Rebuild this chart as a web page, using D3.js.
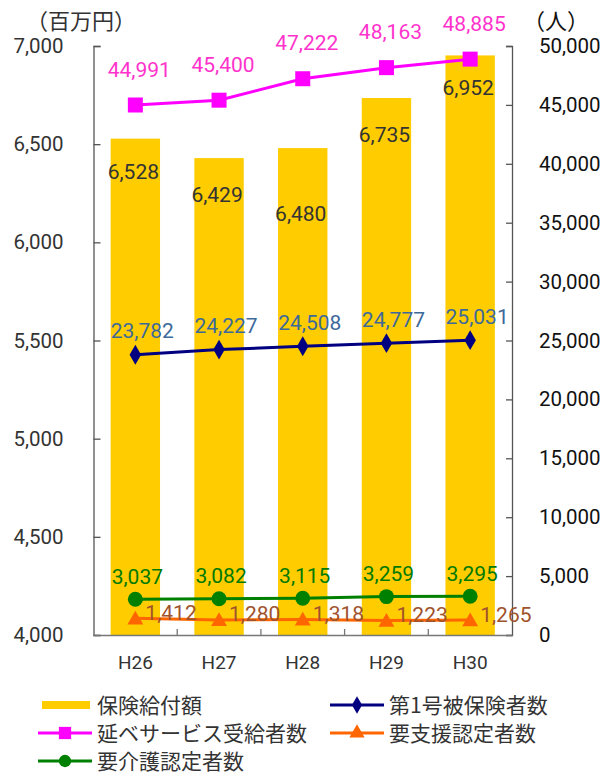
<!DOCTYPE html>
<html>
<head>
<meta charset="utf-8">
<script src="https://cdn.jsdelivr.net/npm/d3@7"></script>
<style>
  html, body { margin: 0; padding: 0; background: #fff; }
  svg { display: block; }
</style>
</head>
<body>
<svg id="chart" width="607" height="774"></svg>
<script>
// Fiscal years
const years = ["H26", "H27", "H28", "H29", "H30"];

// 保険給付額 (百万円) – bars on the left axis
const benefits = [6528, 6429, 6480, 6735, 6952];

// Counts of people (人) – lines on the right axis
const serviceUsers = [44991, 45400, 47222, 48163, 48885];   // 延ベサービス受給者数
const insured1 = [23782, 24227, 24508, 24777, 25031];       // 第1号被保険者数
const careLevel = [3037, 3082, 3115, 3259, 3295];           // 要介護認定者数
const supportLevel = [1412, 1280, 1318, 1223, 1265];        // 要支援認定者数

// Axis ticks
const leftTicks = [4000, 4500, 5000, 5500, 6000, 6500, 7000];
const rightTicks = [0, 5000, 10000, 15000, 20000, 25000, 30000, 35000, 40000, 45000, 50000];

const fmt = d3.format(",");
const NUM_FONT = "Roboto, 'Liberation Sans', sans-serif";
const JP_FONT = "'Noto Sans CJK JP', 'Noto Sans', sans-serif";

const svg = d3.select("#chart");

const plot = { left: 93.5, right: 512, top: 46, bottom: 635 };

const x = d3.scaleBand()
  .domain(years)
  .range([plot.left, plot.right])
  .paddingInner(0.41)
  .paddingOuter(0.205);

const cx = d => x(d) + x.bandwidth() / 2;

const yL = d3.scaleLinear().domain([4000, 7000]).range([plot.bottom, plot.top]);
const yR = d3.scaleLinear().domain([0, 50000]).range([plot.bottom, plot.top]);

// Bars
svg.append("g")
  .selectAll("rect")
  .data(benefits)
  .join("rect")
  .attr("x", (d, i) => x(years[i]))
  .attr("width", x.bandwidth())
  .attr("y", d => yL(d))
  .attr("height", d => plot.bottom - yL(d))
  .attr("fill", "#FFCC00");

// Left axis
const gL = svg.append("g")
  .attr("transform", `translate(${plot.left},0)`)
  .call(d3.axisLeft(yL).tickValues(leftTicks).tickSize(-7).tickPadding(30).tickFormat(fmt));
gL.select(".domain").attr("stroke", "#555").attr("stroke-width", 1.3);
gL.selectAll(".tick line").attr("stroke", "#555").attr("stroke-width", 1.3);
gL.selectAll(".tick text")
  .attr("font-family", NUM_FONT).attr("font-size", 20.5).attr("fill", "#333");

// Right axis
const gR = svg.append("g")
  .attr("transform", `translate(${plot.right},0)`)
  .call(d3.axisRight(yR).tickValues(rightTicks).tickSize(-6).tickPadding(27).tickFormat(fmt));
gR.select(".domain").attr("stroke", "#555").attr("stroke-width", 1.3);
gR.selectAll(".tick line").attr("stroke", "#555").attr("stroke-width", 1.3);
gR.selectAll(".tick text")
  .attr("font-family", NUM_FONT).attr("font-size", 20.5).attr("fill", "#111");

// Bottom axis with ticks at category boundaries
const gB = svg.append("g")
  .attr("transform", `translate(0,${plot.bottom})`)
  .call(d3.axisBottom(x).tickSize(0).tickPadding(21));
gB.select(".domain").attr("stroke", "#777").attr("stroke-width", 1.3);
gB.selectAll(".tick text")
  .attr("font-family", NUM_FONT).attr("font-size", 19).attr("fill", "#333");
gB.selectAll(".boundary")
  .data(years.slice(1))
  .join("line")
  .attr("x1", d => x(d) - x.step() * x.paddingInner() / 2)
  .attr("x2", d => x(d) - x.step() * x.paddingInner() / 2)
  .attr("y1", 0).attr("y2", -6)
  .attr("stroke", "#777").attr("stroke-width", 1.3);

// Axis unit titles
svg.append("text").attr("x", 26).attr("y", 29)
  .attr("font-family", JP_FONT).attr("font-size", 22).attr("fill", "#333")
  .text("（百万円）");
svg.append("text").attr("x", 523).attr("y", 29)
  .attr("font-family", JP_FONT).attr("font-size", 22).attr("fill", "#111")
  .text("（人）");

// Bar value labels, sitting just inside the top of each bar
const barLabelDrop = [33, 36, 65, 36, 32];
svg.append("g")
  .selectAll("text")
  .data(benefits)
  .join("text")
  .attr("x", (d, i) => cx(years[i]) - 2)
  .attr("y", (d, i) => yL(d) + barLabelDrop[i] + 7.5)
  .attr("text-anchor", "middle")
  .attr("font-family", NUM_FONT).attr("font-size", 21).attr("fill", "#333")
  .text(fmt);

// Line series
const series = [
  { values: insured1, color: "#000080", label: "#3D6A9A", symbol: d3.symbolDiamond, size: 115, marker: "diamond", dx: 7, dy: -24, anchor: "middle" },
  { values: serviceUsers, color: "#FF00FF", label: "#FF33CC", symbol: d3.symbolSquare, size: 225, marker: "square", dx: 4, dy: -36, anchor: "middle" },
  { values: supportLevel, color: "#FF6600", label: "#A0522D", symbol: d3.symbolTriangle, size: 110, marker: "triangle", dx: 10, dy: -6, anchor: "start" },
  { values: careLevel, color: "#008000", label: "#007A00", symbol: d3.symbolCircle, size: 175, marker: "circle", dx: 2, dy: -23, anchor: "middle" }
];

const line = d3.line().x((d, i) => cx(years[i])).y(d => yR(d));

series.forEach(s => {
  const g = svg.append("g");
  g.append("path")
    .attr("d", line(s.values))
    .attr("fill", "none")
    .attr("stroke", s.color)
    .attr("stroke-width", 3);
  g.selectAll("path.mk")
    .data(s.values)
    .join("path")
    .attr("class", "mk")
    .attr("transform", (d, i) => {
      let yy = yR(d);
      if (s.marker === "triangle") yy += 1.5;
      return `translate(${cx(years[i])},${yy})`;
    })
    .attr("d", d3.symbol().type(s.symbol).size(s.size))
    .attr("fill", s.color);
});

// Line value labels (drawn after all lines so they stay on top)
series.forEach(s => {
  svg.append("g")
    .selectAll("text")
    .data(s.values)
    .join("text")
    .attr("x", (d, i) => cx(years[i]) + s.dx)
    .attr("y", d => yR(d) + s.dy + 7.5)
    .attr("text-anchor", s.anchor)
    .attr("font-family", NUM_FONT).attr("font-size", 21).attr("fill", s.label)
    .text(fmt);
});

// Legend
const legendItems = [
  { name: "保険給付額", type: "bar", color: "#FFCC00", col: 0, row: 0 },
  { name: "第1号被保険者数", type: "line", color: "#000080", symbol: d3.symbolDiamond, size: 90, col: 1, row: 0 },
  { name: "延ベサービス受給者数", type: "line", color: "#FF00FF", symbol: d3.symbolSquare, size: 150, col: 0, row: 1 },
  { name: "要支援認定者数", type: "line", color: "#FF6600", symbol: d3.symbolTriangle, size: 100, col: 1, row: 1 },
  { name: "要介護認定者数", type: "line", color: "#008000", symbol: d3.symbolCircle, size: 120, col: 0, row: 2 }
];
const colX = [38, 330];
const rowY = [705, 733, 761];

const lg = svg.append("g");
legendItems.forEach(it => {
  const x0 = colX[it.col], y0 = rowY[it.row];
  if (it.type === "bar") {
    lg.append("rect").attr("x", x0 + 4).attr("y", y0 - 4).attr("width", 48).attr("height", 8).attr("fill", it.color);
  } else {
    lg.append("line").attr("x1", x0).attr("x2", x0 + 54).attr("y1", y0).attr("y2", y0)
      .attr("stroke", it.color).attr("stroke-width", 3);
    lg.append("path").attr("transform", `translate(${x0 + 27},${y0})`)
      .attr("d", d3.symbol().type(it.symbol).size(it.size)).attr("fill", it.color);
  }
  lg.append("text").attr("x", x0 + 59).attr("y", y0 + 8)
    .attr("font-family", JP_FONT).attr("font-size", 21).attr("fill", "#333")
    .text(it.name);
});
</script>
</body>
</html>
